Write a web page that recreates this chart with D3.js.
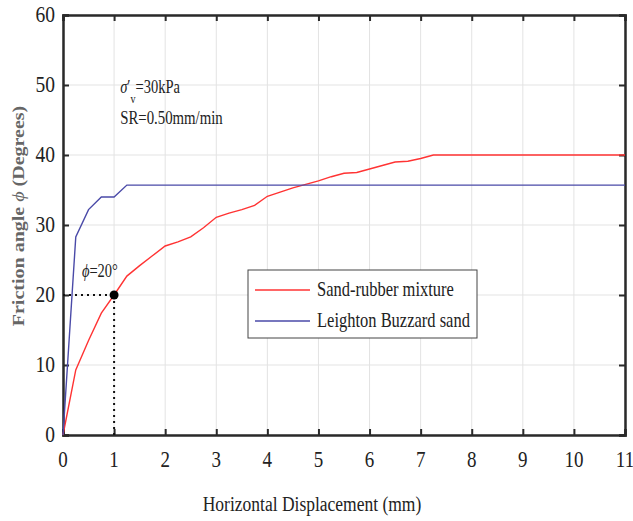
<!DOCTYPE html>
<html>
<head>
<meta charset="utf-8">
<script src="https://cdn.jsdelivr.net/npm/d3@7"></script>
<style>
  body { margin: 0; background: #fff; }
  svg text { font-family: "Liberation Serif", "DejaVu Serif", serif; fill: #222; }
</style>
</head>
<body>
<div id="chart"></div>
<script>
// data
var xTicks = [0, 1, 2, 3, 4, 5, 6, 7, 8, 9, 10, 11];
var yTicks = [0, 10, 20, 30, 40, 50, 60];

var sandX = [0, 0.25, 0.5, 0.75, 1, 1.25, 11];
var sandY = [0, 28.3, 32.2, 34, 34, 35.7, 35.7];

var rubberX = [0, 0.25, 0.5, 0.75, 1, 1.25, 1.5, 1.75, 2, 2.25, 2.5, 2.75, 3, 3.25, 3.5, 3.75, 4, 4.25, 4.5, 4.75, 5, 5.25, 5.5, 5.75, 6, 6.25, 6.5, 6.75, 7, 7.25, 11];
var rubberY = [0, 9.3, 13.5, 17.4, 20, 22.7, 24.2, 25.6, 27, 27.6, 28.3, 29.6, 31.1, 31.7, 32.2, 32.8, 34.1, 34.7, 35.3, 35.8, 36.3, 36.9, 37.4, 37.5, 38, 38.5, 39, 39.1, 39.5, 40, 40];

var seriesNames = ["Sand-rubber mixture", "Leighton Buzzard sand"];
var seriesColors = ["#ff3333", "#4a4aa8"];

var svgWidth = 633, svgHeight = 521;
var margin = { top: 15, right: 8, bottom: 86, left: 63 };
var w = svgWidth - margin.left - margin.right;
var h = svgHeight - margin.top - margin.bottom;
var serif = "Liberation Serif, DejaVu Serif, serif";

var svg = d3.select('#chart').append('svg')
    .attr('width', svgWidth)
    .attr('height', svgHeight);

var chart = svg.append('g')
    .attr('transform', 'translate(' + margin.left + ',' + margin.top + ')');

var xScale = d3.scaleLinear().domain([0, 11]).range([0, w]);
var yScale = d3.scaleLinear().domain([0, 60]).range([h, 0]);

// grid
chart.append('g').selectAll('line').data(xTicks).enter().append('line')
    .attr('x1', d => xScale(d)).attr('x2', d => xScale(d))
    .attr('y1', 0).attr('y2', h)
    .attr('stroke', '#e3e3e3').attr('stroke-width', 1);
chart.append('g').selectAll('line').data(yTicks).enter().append('line')
    .attr('y1', d => yScale(d)).attr('y2', d => yScale(d))
    .attr('x1', 0).attr('x2', w)
    .attr('stroke', '#e3e3e3').attr('stroke-width', 1);

// stretched serif text helper
function tallText(g, x, y, str, size, anchor, sy) {
    return g.append('text')
        .attr('transform', 'translate(' + x + ',' + y + ') scale(1,' + (sy || 1.25) + ')')
        .attr('text-anchor', anchor || 'start')
        .attr('font-family', serif)
        .attr('font-size', size)
        .text(str);
}

// axes with inward ticks
var xAxis = d3.axisBottom(xScale).tickValues(xTicks).tickSize(-6).tickFormat('');
var yAxis = d3.axisLeft(yScale).tickValues(yTicks).tickSize(-6).tickFormat('');
var xTop = d3.axisTop(xScale).tickValues(xTicks).tickSize(-6).tickFormat('');
var yRight = d3.axisRight(yScale).tickValues(yTicks).tickSize(-6).tickFormat('');

chart.append('g').attr('transform', 'translate(0,' + h + ')').call(xAxis);
chart.append('g').call(yAxis);
chart.append('g').call(xTop);
chart.append('g').attr('transform', 'translate(' + w + ',0)').call(yRight);
chart.selectAll('.domain').attr('stroke', '#2a2a2a').attr('stroke-width', 2.5);
chart.selectAll('.tick line').attr('stroke', '#2a2a2a').attr('stroke-width', 2);

// tick labels
xTicks.forEach(function (t) {
    tallText(chart, xScale(t), h + 32, t, 19, 'middle', 1.2);
});
yTicks.forEach(function (t) {
    tallText(chart, -8, yScale(t) + 7, t, 19.5, 'end', 1.2);
});

// axis titles
tallText(chart, 312 - margin.left, h + 76, 'Horizontal Displacement (mm)', 17.5, 'middle');
svg.append('text')
    .attr('transform', 'translate(24,216) rotate(-90) scale(1.25,1)')
    .attr('text-anchor', 'middle')
    .attr('font-family', serif)
    .attr('font-size', 16)
    .attr('font-weight', 'bold')
    .style('fill', '#666')
    .html('Friction angle <tspan font-style="italic" font-weight="normal">\u03d5</tspan> (Degrees)');

// lines
var line = d3.line().x(d => xScale(d[0])).y(d => yScale(d[1]));
var rubber = rubberX.map((x, i) => [x, rubberY[i]]);
var sand = sandX.map((x, i) => [x, sandY[i]]);

chart.append('path').datum(rubber).attr('d', line)
    .attr('fill', 'none').attr('stroke', seriesColors[0]).attr('stroke-width', 1.4);
chart.append('path').datum(sand).attr('d', line)
    .attr('fill', 'none').attr('stroke', seriesColors[1]).attr('stroke-width', 1.4);

// phi = 20 marker
chart.append('line')
    .attr('x1', xScale(0)).attr('x2', xScale(1))
    .attr('y1', yScale(20)).attr('y2', yScale(20))
    .attr('stroke', '#111').attr('stroke-width', 2).attr('stroke-dasharray', '2,4');
chart.append('line')
    .attr('x1', xScale(1)).attr('x2', xScale(1))
    .attr('y1', yScale(20)).attr('y2', yScale(0))
    .attr('stroke', '#111').attr('stroke-width', 2).attr('stroke-dasharray', '2,4');
chart.append('circle')
    .attr('cx', xScale(1)).attr('cy', yScale(20)).attr('r', 4.5).attr('fill', '#000');
chart.append('text')
    .attr('transform', 'translate(' + (xScale(0.37)) + ',' + (yScale(22.6)) + ') scale(1,1.25)')
    .attr('font-family', serif)
    .attr('font-size', 14.5)
    .html('<tspan font-style="italic">\u03d5</tspan>=20\u00b0');

// annotation
chart.append('text')
    .attr('transform', 'translate(' + xScale(1.12) + ',' + yScale(48.8) + ') scale(1,1.25)')
    .attr('font-family', serif)
    .attr('font-size', 14.5)
    .html('<tspan font-style="italic">\u03c3</tspan>\u2032<tspan dy="8" font-size="10">v</tspan><tspan dy="-8">=30kPa</tspan>');
tallText(chart, xScale(1.12), yScale(44.5), 'SR=0.50mm/min', 14.8);

// legend
var lg = chart.append('g').attr('transform', 'translate(' + (248 - margin.left) + ',' + (270 - margin.top) + ')');
lg.append('rect').attr('width', 229).attr('height', 68)
    .attr('fill', '#fff').attr('stroke', '#444').attr('stroke-width', 1);
seriesNames.forEach(function (name, i) {
    var yy = 20 + i * 31;
    lg.append('line').attr('x1', 7).attr('x2', 62).attr('y1', yy).attr('y2', yy)
        .attr('stroke', seriesColors[i]).attr('stroke-width', 1.4);
    tallText(lg, 69, yy + 6, name, 16.5);
});
</script>
</body>
</html>
